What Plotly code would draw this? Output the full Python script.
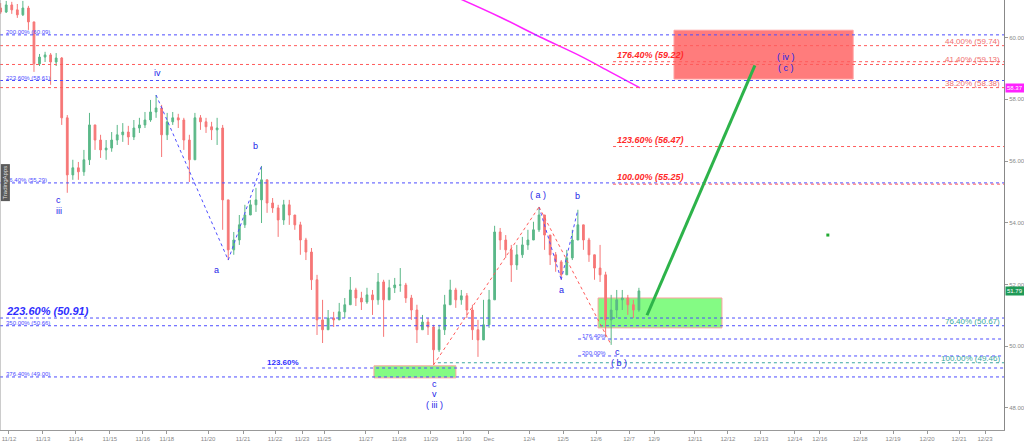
import plotly.graph_objects as go

# ---------------- data ----------------
start_open = 60.96
closes = [60.83, 61.06, 60.90, 60.74, 60.96, 60.51, 59.15, 59.37, 59.44, 59.21,
          59.34, 57.40, 55.55, 55.78, 55.65, 56.04, 57.17, 56.68, 56.36, 56.42,
          56.68, 56.85, 56.94, 56.78, 57.07, 57.17, 57.33, 57.59, 57.72, 56.85,
          57.27, 57.40, 57.33, 56.68, 56.04, 57.40, 57.27, 57.11, 57.01, 57.07,
          54.74, 53.12, 53.44, 53.93, 54.25, 54.58, 54.74, 55.39, 54.64, 54.48,
          54.09, 54.58, 54.25, 53.93, 53.44, 53.05, 52.15, 50.85, 50.53, 50.91,
          50.85, 51.11, 51.34, 51.82, 51.56, 51.43, 51.66, 51.50, 52.08, 51.50,
          51.89, 51.98, 51.98, 51.56, 51.17, 50.53, 50.78, 50.62, 49.88, 50.53,
          51.34, 51.82, 51.50, 51.63, 51.17, 50.53, 50.20, 50.69, 51.50, 53.70,
          53.44, 53.12, 52.63, 52.96, 53.28, 53.44, 53.77, 54.25, 53.60, 52.96,
          52.73, 52.31, 52.86, 53.44, 53.93, 53.44, 52.96, 52.53, 52.31, 50.85,
          51.17, 51.50, 51.56, 51.34, 51.17, 51.79]
highs = [61.12, 61.19, 61.16, 61.09, 61.19, 61.03, 60.51, 59.47, 59.54, 59.50,
         59.50, 59.37, 57.49, 56.04, 55.97, 56.36, 57.56, 57.07, 56.85, 56.68,
         56.94, 57.17, 57.23, 57.14, 57.33, 57.40, 57.59, 57.98, 58.14, 57.82,
         57.56, 57.59, 57.53, 57.40, 56.85, 57.56, 57.49, 57.40, 57.27, 57.40,
         57.17, 54.74, 53.70, 54.25, 54.58, 54.74, 55.13, 55.84, 55.39, 54.80,
         54.58, 54.74, 54.74, 54.16, 54.03, 53.51, 53.18, 52.31, 51.50, 51.17,
         51.11, 51.40, 51.56, 52.24, 51.89, 51.76, 51.89, 51.82, 52.37, 52.15,
         52.15, 52.21, 52.53, 52.05, 51.66, 51.34, 51.01, 50.91, 50.69, 50.69,
         51.66, 52.15, 51.89, 51.82, 51.72, 51.34, 50.85, 51.50, 51.82, 53.90,
         53.83, 53.60, 53.28, 53.28, 53.54, 53.77, 54.03, 54.51, 54.25, 53.60,
         53.05, 52.79, 53.12, 53.77, 54.42, 53.93, 53.51, 52.96, 53.28, 52.41,
         51.66, 51.82, 51.82, 51.66, 51.50, 51.89]
lows = [60.77, 60.80, 60.77, 60.64, 60.70, 60.25, 58.89, 59.08, 59.21, 58.47,
        59.08, 57.17, 54.97, 55.39, 55.39, 55.52, 55.87, 56.36, 56.10, 56.04,
        56.30, 56.52, 56.62, 56.52, 56.68, 56.91, 57.07, 57.27, 57.40, 56.13,
        56.68, 57.17, 57.07, 56.36, 55.32, 56.04, 57.01, 56.91, 56.68, 56.52,
        53.77, 52.79, 52.96, 53.28, 53.83, 54.25, 54.35, 53.99, 54.32, 54.32,
        53.54, 53.93, 53.93, 53.77, 52.96, 52.79, 51.82, 50.36, 50.10, 50.69,
        50.62, 50.85, 50.91, 51.50, 51.30, 51.17, 51.37, 51.01, 51.34, 50.30,
        51.66, 51.72, 51.76, 51.40, 50.85, 50.10, 50.53, 50.36, 49.39, 49.81,
        50.36, 51.34, 51.24, 51.34, 50.91, 50.20, 49.65, 50.53, 50.59, 51.50,
        53.12, 52.86, 52.08, 52.47, 52.86, 53.12, 53.44, 53.70, 53.12, 52.63,
        52.41, 52.15, 52.31, 52.79, 53.44, 53.12, 52.73, 52.15, 52.08, 50.30,
        50.04, 50.91, 51.17, 51.01, 50.91, 51.11]

first_bar = -0.25      # session-day units
bar_step = 1 / 6

tick_labels = ["11/12", "11/13", "11/14", "11/15", "11/16", "11/18", "11/20", "11/21",
               "11/22", "11/23", "11/25", "11/27", "11/28", "11/29", "11/30", "Dec",
               "12/4", "12/5", "12/6", "12/7", "12/9", "12/11", "12/12", "12/13",
               "12/14", "12/16", "12/18", "12/19", "12/20", "12/21", "12/23"]
tick_pos = [0, 1.02, 2.01, 3.03, 4.02, 4.74, 5.98, 7.03, 7.99, 8.80, 9.46, 10.72,
            11.71, 12.67, 13.66, 14.41, 15.62, 16.64, 17.63, 18.62, 19.37, 20.60,
            21.59, 22.58, 23.60, 24.35, 25.56, 26.55, 27.57, 28.53, 29.31]

ma_x = [13.5, 14.74, 15.95, 17.15, 18.05, 18.95]
ma_y = [61.28, 60.67, 60.02, 59.41, 58.89, 58.37]

# full-width fib levels (left labels)
left_prices = [60.09, 58.61, 55.29, 50.91, 50.66, 49.00]
left_labels = ["200.00% (60.09)", "223.60% (58.61)", "76.40% (55.29)",
               "223.60% (50.91)", "350.00% (50.66)", "376.40% (49.00)"]
# full-width red levels (right labels)
right_prices = [59.74, 59.13, 58.38]
right_labels = ["44.00% (59.74)", "41.40% (59.13)", "38.20% (58.38)"]
# projection levels (bold red)
proj_prices = [59.22, 56.47, 55.25]
proj_labels = ["176.40% (59.22)", "123.60% (56.47)", "100.00% (55.25)"]
# (b) wave extension levels
ext_prices = [50.23, 49.68]
ext_labels = ["176.40%", "200.00%"]
low_ext_price = 49.29
low_ext_label = "123.60%"
teal_price = 49.46
teal_labels = ["76.40% (50.67)", "100.00% (49.46)"]
teal_label_prices = [50.66, 49.46]

target_zone = [58.66, 60.24]
support_zone = [50.59, 51.56]
low_zone = [48.97, 49.36]
proj_target = 59.10
last_price = 51.79
ma_last = 58.37

wave_text = ["c", "iii", "iv", "a", "b", "( a )", "b", "a", "c", "( b )",
             "c", "v", "( iii )", "( iv )", "( c )"]
wave_x = [1.50, 1.50, 4.47, 6.22, 7.39, 15.89, 17.06, 16.58, 18.26, 18.32,
          12.79, 12.79, 12.79, 23.33, 23.33]
wave_y = [54.74, 54.38, 58.86, 52.47, 56.49, 54.90, 54.87, 51.82, 49.81, 49.45,
          48.77, 48.45, 48.09, 59.37, 59.02]

# --------------- build ---------------
n = len(closes)
xs = [first_bar + i * bar_step for i in range(n)]
opens = [start_open] + closes[:-1]
hi = [max(h, o, c) for h, o, c in zip(highs, opens, closes)]
lo = [min(l, o, c) for l, o, c in zip(lows, opens, closes)]

BLUE = "#4d4dff"
RED = "#ff5c5c"
TEAL = "#3aa7a0"
WAVE = "#2323e8"
FONT = "Liberation Sans, Arial, sans-serif"

fig = go.Figure()
fig.add_trace(go.Candlestick(
    x=xs, open=opens, high=hi, low=lo, close=closes,
    increasing=dict(line=dict(color="#5bb888", width=1), fillcolor="#5bb888"),
    decreasing=dict(line=dict(color="#f67777", width=1), fillcolor="#f67777"),
    whiskerwidth=0, showlegend=False, hoverinfo="skip"))

fig.add_trace(go.Scatter(x=ma_x, y=ma_y, mode="lines", line=dict(color="#ff22ff", width=1.5),
                         line_shape="spline", showlegend=False, hoverinfo="skip"))

# wave pivots from data
iv = (xs[28], hi[28]); a1 = (xs[41], lo[41]); b1 = (xs[47], hi[47])
w3 = (xs[78], lo[78]); wa = (xs[97], hi[97]); a2 = (xs[101], lo[101])
b2 = (xs[104], hi[104]); c2 = (xs[110], lo[110])

shapes = []
# zones
shapes.append(dict(type="rect", x0=19.97, x1=25.35, y0=target_zone[0], y1=target_zone[1],
                   fillcolor="#ff7c7c", line=dict(color="#ffa0a0", width=1), layer="below"))
shapes.append(dict(type="rect", x0=17.69, x1=21.41, y0=support_zone[0], y1=support_zone[1],
                   fillcolor="#84fb84", line=dict(color="#ffa0a0", width=1), layer="below"))
shapes.append(dict(type="rect", x0=10.96, x1=13.42, y0=low_zone[0], y1=low_zone[1],
                   fillcolor="#84fb84", line=dict(color="#ffa0a0", width=1), layer="below"))


def hline(y, color, x0=0, x1=1, xref="paper", dash="dot"):
    shapes.append(dict(type="line", xref=xref, x0=x0, x1=x1, yref="y", y0=y, y1=y,
                       line=dict(color=color, width=1, dash=dash)))


for p in left_prices:
    hline(p, BLUE)
for p in right_prices:
    hline(p, RED)
for p in proj_prices:
    hline(p, RED, x0=18.14, x1=29.88, xref="x")
for p in ext_prices:
    hline(p, BLUE, x0=17.09, x1=29.88, xref="x")
hline(low_ext_price, BLUE, x0=7.60, x1=29.88, xref="x")
hline(teal_price, TEAL, x0=12.88, x1=29.88, xref="x")


def seg(p0, p1, color, width=1, dash="dot"):
    shapes.append(dict(type="line", x0=p0[0], y0=p0[1], x1=p1[0], y1=p1[1],
                       line=dict(color=color, width=width, dash=dash)))


seg(iv, a1, BLUE); seg(a1, b1, BLUE)
seg(wa, a2, BLUE); seg(a2, b2, BLUE)
seg(w3, wa, RED); seg(wa, c2, RED)
# projection arrow
seg((19.16, 51.0), (22.40, proj_target), "#2db34a", width=3, dash="solid")
# left border
shapes.append(dict(type="line", xref="paper", x0=0, x1=0, yref="paper", y0=0, y1=1,
                   line=dict(color="#999999", width=1)))

fig.add_trace(go.Scatter(x=[24.59], y=[53.60], mode="markers",
                         marker=dict(color="#22aa33", size=3, symbol="square"),
                         showlegend=False, hoverinfo="skip"))

ann = []


def label(x, y, text, color, size, xref="x", xanchor="left", yanchor="bottom",
          bold=False, italic=False, yshift=0):
    t = text
    if bold:
        t = "<b>" + t + "</b>"
    if italic:
        t = "<i>" + t + "</i>"
    ann.append(dict(x=x, y=y, xref=xref, yref="y", text=t, showarrow=False,
                    xanchor=xanchor, yanchor=yanchor, yshift=yshift,
                    font=dict(color=color, size=size, family=FONT)))


for p, t in zip(left_prices, left_labels):
    if t.startswith("223.60% (50.91)"):
        label(0.004, p, t, "#2f2fff", 11, xref="paper", bold=True, italic=True, yshift=-1)
    else:
        label(0.004, p, t, BLUE, 6, xref="paper", yshift=-2)
for p, t in zip(right_prices, right_labels):
    label(0.998, p, t, "#f07070", 8, xref="paper", xanchor="right", yshift=-2)
for p, t in zip(proj_prices, proj_labels):
    label(18.20, p, t, "#ff2a2a", 9, bold=True, italic=True, yshift=0)
for p, t in zip(ext_prices, ext_labels):
    label(17.15, p, t, BLUE, 6, yshift=-2)
label(7.68, low_ext_price, low_ext_label, "#2f2fff", 8, bold=True, yshift=-1)
for p, t in zip(teal_label_prices, teal_labels):
    label(0.998, p, t, TEAL, 8, xref="paper", xanchor="right", yshift=-2)

for x, y, t in zip(wave_x, wave_y, wave_text):
    label(x, y, t, WAVE, 9, xanchor="center", yanchor="middle")

# price badges on right axis
for p, t, bg in [(ma_last, "58.37", "#ff22ff"), (last_price, "51.79", "#1f9a57")]:
    ann.append(dict(x=1, xref="paper", y=p, yref="y", text=t, showarrow=False,
                    xanchor="left", yanchor="middle", xshift=1, bgcolor=bg,
                    borderpad=1, font=dict(color="white", size=6, family=FONT)))
# watermark
ann.append(dict(x=0, xref="paper", y=55.3, yref="y", text="TradingApps", showarrow=False,
                textangle=-90, xanchor="left", yanchor="middle", bgcolor="#5a5a5a",
                borderpad=1, font=dict(color="#e0e0e0", size=6, family=FONT)))

fig.update_layout(
    width=1024, height=443, margin=dict(l=0, r=20, t=0, b=13),
    paper_bgcolor="white", plot_bgcolor="white", boxgap=0.55,
    shapes=shapes, annotations=ann, showlegend=False,
    xaxis=dict(range=[-0.27, 29.88], tickvals=tick_pos, ticktext=tick_labels,
               showgrid=False, zeroline=False, rangeslider=dict(visible=False),
               ticks="outside", ticklen=3, tickcolor="#999", showline=True,
               linecolor="#999", tickfont=dict(size=6, color="#888", family=FONT)),
    yaxis=dict(side="right", range=[47.28, 61.22], tickvals=[48, 50, 52, 54, 56, 58, 60],
               tickformat=".2f", showgrid=False, zeroline=False, ticks="outside",
               ticklen=3, tickcolor="#999", showline=True, linecolor="#888",
               tickfont=dict(size=6, color="#888", family=FONT)),
)

fig.write_html("out.html", config={"displayModeBar": False},
               post_script="document.body.style.margin='0';document.body.style.padding='0';")
